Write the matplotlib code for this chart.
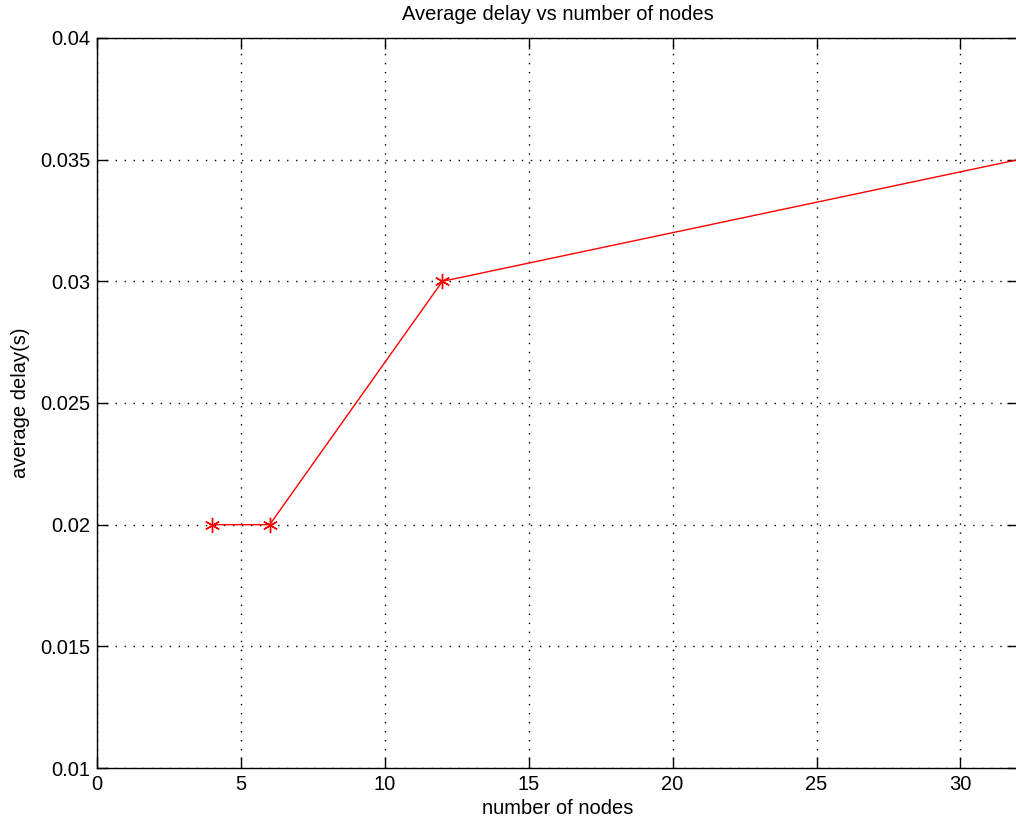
import matplotlib
matplotlib.use("Agg")
import matplotlib.pyplot as plt

plt.rcParams['font.family'] = ['Liberation Sans', 'DejaVu Sans']

nodes = [4, 6, 12, 40]
delay = [0.02, 0.02, 0.03, 0.037]
xticks = [0, 5, 10, 15, 20, 25, 30]
yticks = [0.01, 0.015, 0.02, 0.025, 0.03, 0.035, 0.04]
ytick_labels = ['0.01', '0.015', '0.02', '0.025', '0.03', '0.035', '0.04']

fig = plt.figure(figsize=(10.16, 8.24), dpi=100)
ax = fig.add_axes([97 / 1016, 56 / 824, 921 / 1016, 730 / 824])

ax.plot(nodes, delay, color='red', linewidth=1, marker=(6, 2, 0),
        markersize=11, markeredgewidth=1)

ax.set_xlim(0, 32)
ax.set_ylim(0.01, 0.04)
ax.set_xticks(xticks)
ax.set_yticks(yticks)
ax.set_yticklabels(ytick_labels)
ax.tick_params(direction='in', length=8, width=1, labelsize=14.5,
               top=True, right=True, pad=5)
ax.grid(True, color='black', linestyle=(0, (1, 5.5)), linewidth=1)
for s in ax.spines.values():
    s.set_linewidth(1)

ax.set_title('Average delay vs number of nodes', fontsize=14.5, pad=13)
ax.set_xlabel('number of nodes', fontsize=14.5, labelpad=4)
ax.set_ylabel('average delay(s)', fontsize=14.5, labelpad=7)

fig.savefig('out.png', dpi=100)
